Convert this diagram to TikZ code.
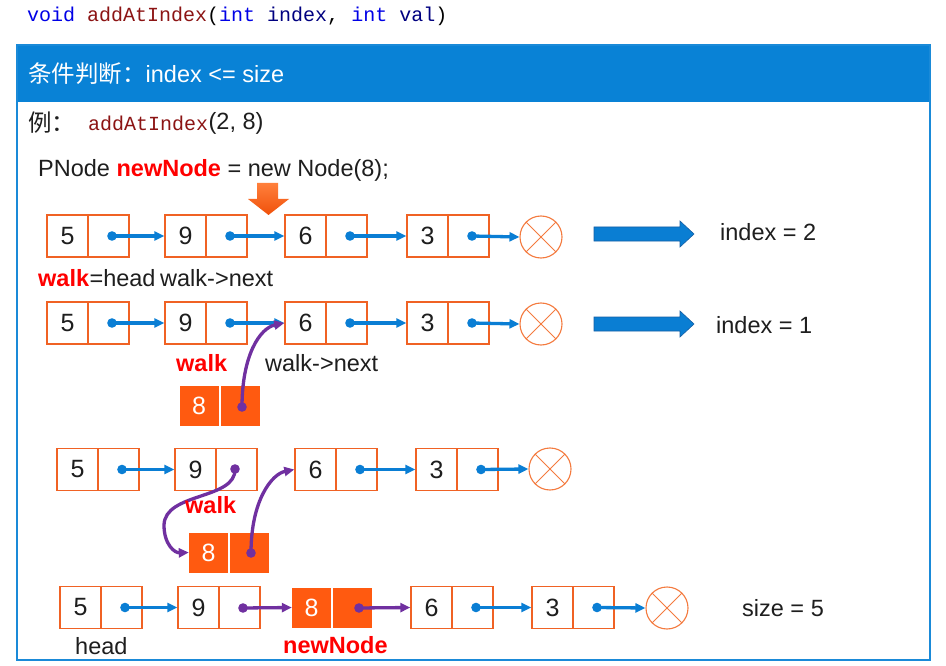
\documentclass[tikz,border=0pt]{standalone}
\usepackage{fontspec}
\setmainfont{Liberation Sans}
\setmonofont{Liberation Mono}
\newfontfamily\cjk{Noto Sans CJK SC}
\usetikzlibrary{arrows.meta}
\definecolor{boxor}{RGB}{240,98,36}
\definecolor{fillor}{RGB}{255,90,16}
\definecolor{ptrblue}{RGB}{10,126,212}
\definecolor{bandblue}{RGB}{9,130,214}
\definecolor{frameblue}{RGB}{26,138,216}
\definecolor{ptrpurple}{RGB}{112,48,160}
\definecolor{nullor}{RGB}{244,122,62}
\definecolor{codered}{RGB}{140,20,20}
\definecolor{codeblue}{RGB}{0,0,230}
\definecolor{codenavy}{RGB}{0,0,128}
\definecolor{txt}{RGB}{30,30,30}
\definecolor{hotred}{RGB}{255,0,0}
\definecolor{bigarrow}{RGB}{10,126,211}
\definecolor{bigarrowline}{RGB}{20,95,165}
\definecolor{arrtop}{RGB}{255,128,60}
\definecolor{arrbot}{RGB}{240,80,10}
\newcommand\listnode[4]{%
  \node[cellv] (#1) at ({#2+20.5},#3) {#4};
  \node[cellv] (#1p) at ({#2+61.5},#3) {};
  \coordinate (#1d) at ({#2+65},#3);
}
\newcommand\bigarr[2]{%
  \filldraw[fill=bigarrow, draw=bigarrowline, line width=0.6pt]
    (#1,#2-7) -- (#1+86,#2-7) -- (#1+86,#2-13) -- (#1+100,#2) -- (#1+86,#2+13)
    -- (#1+86,#2+7) -- (#1,#2+7) -- cycle;
}
\begin{document}
\begin{tikzpicture}[x=1pt,y=-1pt,
  cellv/.style={draw=boxor, line width=1.4pt, minimum width=41pt, minimum height=42pt,
    inner sep=0pt, text=txt, font=\fontsize{25}{28}\selectfont},
  newv/.style={fill=fillor, minimum width=39pt, minimum height=40pt, inner sep=0pt,
    text=white, font=\fontsize{25}{28}\selectfont},
  nullnode/.style={circle, draw=nullor, line width=1.1pt, minimum size=42pt, inner sep=0pt},
  bptr/.style={draw=ptrblue, line width=3.3pt, -{Triangle[length=10pt,width=9pt]}},
  pptr/.style={draw=ptrpurple, line width=3.3pt, -{Triangle[length=10pt,width=9pt]}},
  lbl/.style={anchor=west, inner sep=0pt, text=txt, font=\fontsize{23.5}{28}\selectfont},
  blbl/.style={anchor=west, inner sep=0pt, text=hotred, font=\fontsize{23.5}{28}\selectfont\bfseries},
  bdot/.style={fill=ptrblue},
  pdot/.style={fill=ptrpurple}
]
\useasboundingbox (0,0) rectangle (946,666);
\fill[white] (0,0) rectangle (946,666);

% title
\node[anchor=west, inner sep=0pt, font=\ttfamily\fontsize{20}{22}\selectfont] (title) at (27,16)
  {\textcolor{codeblue}{void} \textcolor{codered}{addAtIndex}(\textcolor{codeblue}{int} \textcolor{codenavy}{index}, \textcolor{codeblue}{int} \textcolor{codenavy}{val})};

% frame and band
\fill[bandblue] (17,45) rectangle (930,102);
\draw[frameblue, line width=1.2pt] (17,45) rectangle (930,660);
\node[anchor=west, inner sep=0pt, text=white, font=\fontsize{23.5}{28}\selectfont] (hdr) at (28,74)
  {{\cjk 条件判断：}index <= size};

\node[lbl] (ex) at (28,123) {{\cjk 例：}};
\node[anchor=west, inner sep=0pt, text=codered, font=\ttfamily\fontsize{20}{24}\selectfont] (exf) at (88,123) {addAtIndex};
\node[lbl, anchor=west] (exa) at (exf.east) {(2, 8)};
\node[lbl] (pn) at (38,170) {PNode \textcolor{hotred}{\bfseries newNode} = new Node(8);};

% orange down arrow
\shade[top color=arrtop, bottom color=arrbot]
  (257,183) -- (278,183) -- (278,199) -- (289,199) -- (268.5,215) -- (248,199) -- (257,199) -- cycle;

% ---------- row 1
\listnode{a5}{47}{236}{5}
\listnode{a9}{165}{236}{9}
\listnode{a6}{285}{236}{6}
\listnode{a3}{407}{236}{3}
\node[nullnode] (an) at (541,237) {};
\draw[nullor, line width=0.9pt] (an.45) -- (an.225) (an.135) -- (an.315);
\draw[bptr] (a5d) -- (a9.west);
\draw[bptr] (a9d) -- (a6.west);
\draw[bptr] (a6d) -- (a3.west);
\draw[bptr] (a3d) -- (an.west);
\foreach \d in {a5d,a9d,a6d,a3d} \fill[bdot] (\d) circle (4.8pt);
\bigarr{594}{234}
\node[lbl] (i2) at (720,232) {index = 2};
\node[blbl] (w1) at (38,278) {walk};
\node[lbl, anchor=west] (h1) at (w1.east) {=head};
\node[lbl] (n1) at (160,278) {walk->next};

% ---------- row 2
\listnode{b5}{47}{323}{5}
\listnode{b9}{165}{323}{9}
\listnode{b6}{285}{323}{6}
\listnode{b3}{407}{323}{3}
\node[nullnode] (bn) at (541,324) {};
\draw[nullor, line width=0.9pt] (bn.45) -- (bn.225) (bn.135) -- (bn.315);
\draw[bptr] (b5d) -- (b9.west);
\draw[bptr] (b9d) -- (b6.west);
\draw[bptr] (b6d) -- (b3.west);
\draw[bptr] (b3d) -- (bn.west);
\foreach \d in {b5d,b9d,b6d,b3d} \fill[bdot] (\d) circle (4.8pt);
\bigarr{594}{324}
\node[lbl] (i1) at (716,325) {index = 1};
\node[blbl] (w2) at (176,363) {walk};
\node[lbl] (n2) at (265,363) {walk->next};
\node[newv] (b8) at (199,406) {8};
\node[newv] (b8p) at (240.5,406) {};
\coordinate (b8d) at (242,407);
\draw[pptr] (b8d) .. controls (242,355) and (260,328) .. (b6.west);
\fill[pdot] (b8d) circle (4.8pt);

% ---------- row 3
\listnode{c5}{57}{469.5}{5}
\listnode{c9}{175}{469.5}{9}
\listnode{c6}{295}{469.5}{6}
\listnode{c3}{416}{469.5}{3}
\node[nullnode] (cn) at (550,469) {};
\draw[nullor, line width=0.9pt] (cn.45) -- (cn.225) (cn.135) -- (cn.315);
\draw[bptr] (c5d) -- (c9.west);
\draw[bptr] (c6d) -- (c3.west);
\draw[bptr] (c3d) -- (cn.west);
\foreach \d in {c5d,c6d,c3d} \fill[bdot] (\d) circle (4.8pt);
\node[newv] (c8) at (208.5,552.5) {8};
\node[newv] (c8p) at (249.5,552.5) {};
\coordinate (c8d) at (251,553);
\coordinate (c9v) at (235,469);
\draw[pptr] (c9v) .. controls (236,500) and (165,492) .. (164,525)
  .. controls (164,545) and (175,553) .. (c8.west);
\draw[pptr] (c8d) .. controls (251,500) and (272,474) .. (c6.west);
\fill[pdot] (c9v) circle (4.8pt);
\fill[pdot] (c8d) circle (4.8pt);
\node[blbl] (w3) at (185,505) {walk};

% ---------- row 4
\listnode{d5}{60}{607.5}{5}
\listnode{d9}{178}{607.5}{9}
\node[newv] (d8) at (311.5,607.5) {8};
\node[newv] (d8p) at (352.5,607.5) {};
\coordinate (d8d) at (359,608);
\listnode{d6}{411}{607.5}{6}
\listnode{d3}{532}{607.5}{3}
\node[nullnode] (dn) at (667,608) {};
\draw[nullor, line width=0.9pt] (dn.45) -- (dn.225) (dn.135) -- (dn.315);
\coordinate (d9v) at (243,608);
\draw[bptr] (d5d) -- (d9.west);
\draw[pptr] (d9v) -- (d8.west);
\draw[pptr] (d8d) -- (d6.west);
\draw[bptr] (d6d) -- (d3.west);
\draw[bptr] (d3d) -- (dn.west);
\foreach \d in {d5d,d6d,d3d} \fill[bdot] (\d) circle (4.8pt);
\fill[pdot] (d9v) circle (4.8pt);
\fill[pdot] (d8d) circle (4.8pt);
\node[lbl] (sz) at (742,608) {size = 5};
\node[lbl] (hd) at (75,646) {head};
\node[blbl] (nn) at (283,645) {newNode};
\end{tikzpicture}
\end{document}
